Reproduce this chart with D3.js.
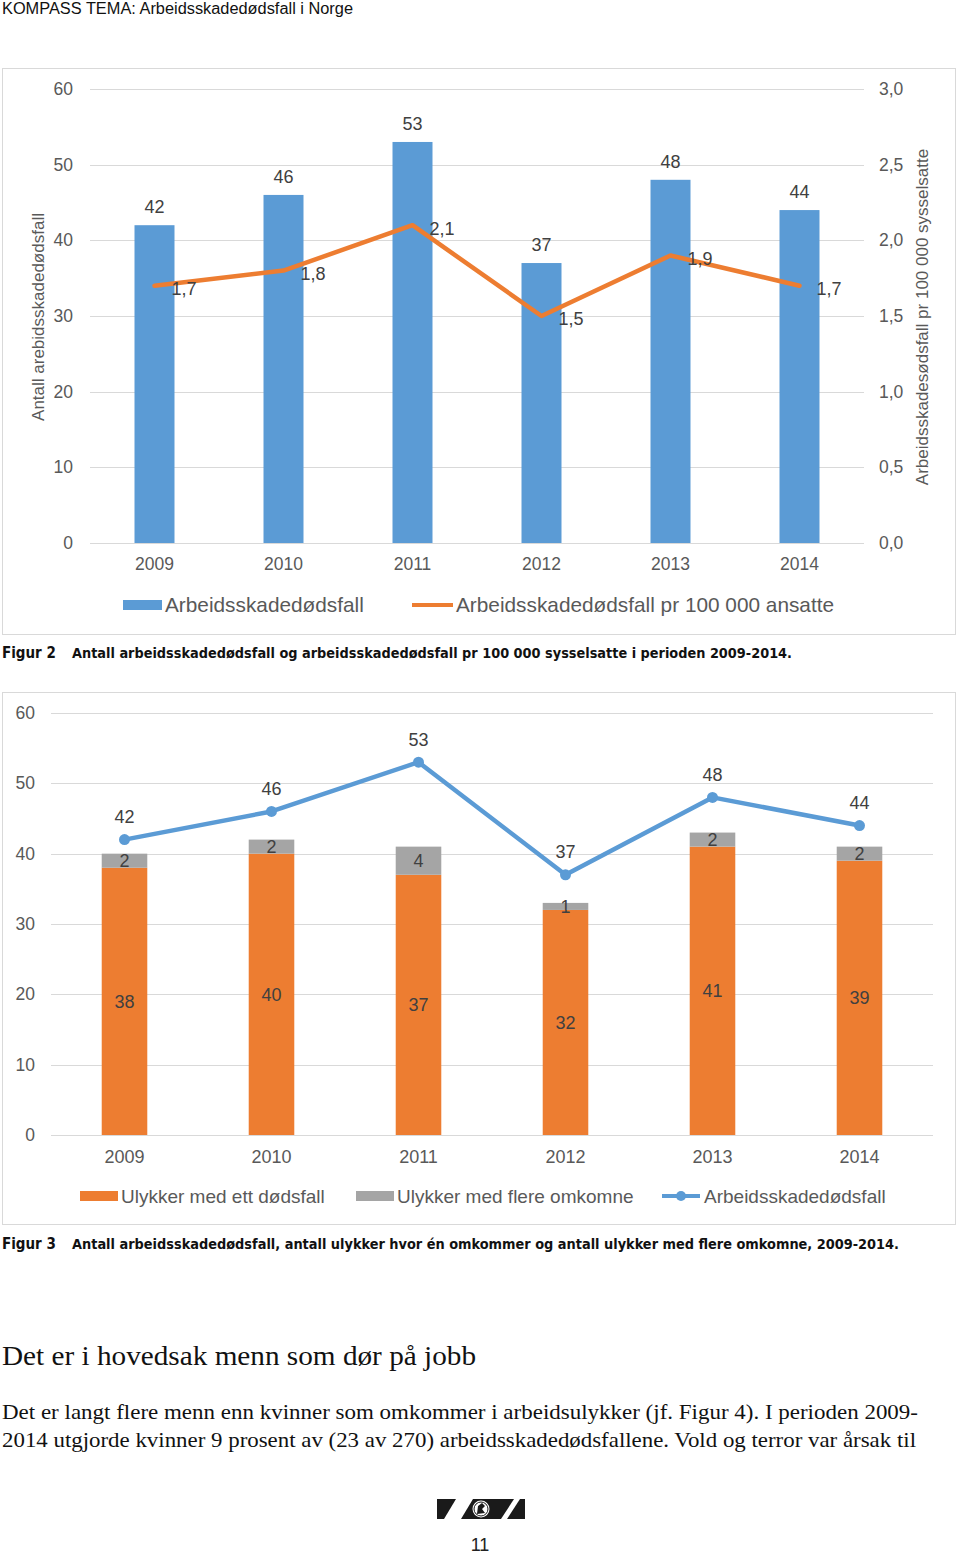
<!DOCTYPE html>
<html>
<head>
<meta charset="utf-8">
<script src="https://cdn.jsdelivr.net/npm/d3@7"></script>
<style>
  html, body { margin: 0; padding: 0; background: #fff; }
  svg { display: block; }
</style>
</head>
<body>
<svg id="page" width="960" height="1554"></svg>
<script>
// ---------- data ----------
const years = ["2009", "2010", "2011", "2012", "2013", "2014"];
const deaths = [42, 46, 53, 37, 48, 44];
const ratePer100k = [1.7, 1.8, 2.1, 1.5, 1.9, 1.7];
const accidentsOneDeath = [38, 40, 37, 32, 41, 39];
const accidentsMultiple = [2, 2, 4, 1, 2, 2];
const leftTicks = [0, 10, 20, 30, 40, 50, 60];
const rightTicks = [0, 0.5, 1.0, 1.5, 2.0, 2.5, 3.0];

const BLUE = "#5B9BD5", ORANGE = "#ED7D31", GRAY = "#A5A5A5";
const GRID = "#D9D9D9", AX = "#595959", LBL = "#404040";
const SANS = "'Liberation Sans', Arial, sans-serif";
const NARROW = "'Liberation Sans Narrow', 'DejaVu Sans Condensed', 'Liberation Sans', sans-serif";
const SERIF = "'Liberation Serif', 'Times New Roman', serif";
const fmtComma = d => d3.format(".1f")(d).replace(".", ",");

const svg = d3.select("#page");
svg.append("rect").attr("width", 960).attr("height", 1554).attr("fill", "#fff");

// ---------- header ----------
svg.append("text").attr("x", 2).attr("y", 14)
  .attr("font-family", SANS).attr("font-size", 16).attr("fill", "#111")
  .attr("textLength", 351).attr("lengthAdjust", "spacingAndGlyphs")
  .text("KOMPASS TEMA: Arbeidsskadedødsfall i Norge");

// ================= FIGURE 2 (bars + rate line) =================
const f1 = svg.append("g");
f1.append("rect").attr("x", 2.5).attr("y", 68.5).attr("width", 953).attr("height", 566)
  .attr("fill", "none").attr("stroke", GRID);

const x1 = d3.scaleBand().domain(years).range([90, 864]).padding(0);
const yL = d3.scaleLinear().domain([0, 60]).range([543, 89]);
const yR = d3.scaleLinear().domain([0, 3]).range([543, 89]);
const bw1 = x1.bandwidth() * 0.31;
const cx1 = d => x1(d) + x1.bandwidth() / 2;

// gridlines
f1.append("g").selectAll("line").data(leftTicks).join("line")
  .attr("x1", 90).attr("x2", 864)
  .attr("y1", d => Math.round(yL(d)) + 0.5).attr("y2", d => Math.round(yL(d)) + 0.5)
  .attr("stroke", GRID).attr("stroke-width", 1);

// left axis labels
f1.append("g").selectAll("text").data(leftTicks).join("text")
  .attr("x", 73).attr("y", d => yL(d)).attr("dy", "0.35em")
  .attr("text-anchor", "end").attr("font-family", SANS).attr("font-size", 17.5).attr("fill", AX)
  .text(d => d);
// right axis labels
f1.append("g").selectAll("text").data(rightTicks).join("text")
  .attr("x", 879).attr("y", d => yR(d)).attr("dy", "0.35em")
  .attr("text-anchor", "start").attr("font-family", SANS).attr("font-size", 17.5).attr("fill", AX)
  .text(d => fmtComma(d));

// axis titles
f1.append("text").attr("transform", "translate(44,317) rotate(-90)")
  .attr("text-anchor", "middle").attr("font-family", SANS).attr("font-size", 17).attr("fill", AX)
  .text("Antall arebidsskadedødsfall");
f1.append("text").attr("transform", "translate(928,317) rotate(-90)")
  .attr("text-anchor", "middle").attr("font-family", SANS).attr("font-size", 17).attr("fill", AX)
  .text("Arbeidsskadesødsfall pr 100 000 sysselsatte");

// bars
f1.append("g").selectAll("rect").data(years).join("rect")
  .attr("x", d => cx1(d) - bw1 / 2).attr("width", bw1)
  .attr("y", (d, i) => yL(deaths[i])).attr("height", (d, i) => yL(0) - yL(deaths[i]))
  .attr("fill", BLUE);
// bar labels
f1.append("g").selectAll("text").data(years).join("text")
  .attr("x", d => cx1(d)).attr("y", (d, i) => yL(deaths[i]) - 12)
  .attr("text-anchor", "middle").attr("font-family", SANS).attr("font-size", 18).attr("fill", LBL)
  .text((d, i) => deaths[i]);

// rate line
const line1 = d3.line().x((d, i) => cx1(years[i])).y(d => yR(d));
f1.append("path").datum(ratePer100k).attr("d", line1)
  .attr("fill", "none").attr("stroke", ORANGE).attr("stroke-width", 4.5)
  .attr("stroke-linejoin", "round").attr("stroke-linecap", "round");
f1.append("g").selectAll("text").data(ratePer100k).join("text")
  .attr("x", (d, i) => cx1(years[i]) + 17).attr("y", d => yR(d) + 3).attr("dy", "0.35em")
  .attr("font-family", SANS).attr("font-size", 18).attr("fill", LBL)
  .text(d => fmtComma(d));

// x labels
f1.append("g").selectAll("text").data(years).join("text")
  .attr("x", d => cx1(d)).attr("y", 564).attr("dy", "0.35em")
  .attr("text-anchor", "middle").attr("font-family", SANS).attr("font-size", 17.5).attr("fill", AX)
  .text(d => d);

// legend
f1.append("rect").attr("x", 123).attr("y", 600).attr("width", 39).attr("height", 10).attr("fill", BLUE);
f1.append("text").attr("x", 165).attr("y", 605).attr("dy", "0.35em")
  .attr("font-family", SANS).attr("font-size", 20.8).attr("fill", AX).text("Arbeidsskadedødsfall");
f1.append("line").attr("x1", 412).attr("x2", 453).attr("y1", 605).attr("y2", 605)
  .attr("stroke", ORANGE).attr("stroke-width", 4);
f1.append("text").attr("x", 456).attr("y", 605).attr("dy", "0.35em")
  .attr("font-family", SANS).attr("font-size", 20.8).attr("fill", AX).text("Arbeidsskadedødsfall pr 100 000 ansatte");

// caption 1
svg.append("text").attr("x", 2).attr("y", 658)
  .attr("font-family", NARROW).attr("font-weight", "bold").attr("font-size", 15).attr("fill", "#111")
  .text("Figur 2");
svg.append("text").attr("x", 72).attr("y", 658)
  .attr("font-family", NARROW).attr("font-weight", "bold").attr("font-size", 14).attr("fill", "#111")
  .attr("textLength", 720).attr("lengthAdjust", "spacingAndGlyphs")
  .text("Antall arbeidsskadedødsfall og arbeidsskadedødsfall pr 100 000 sysselsatte i perioden 2009-2014.");

// ================= FIGURE 3 (stacked + line) =================
const f2 = svg.append("g");
f2.append("rect").attr("x", 2.5).attr("y", 692.5).attr("width", 953).attr("height", 532)
  .attr("fill", "none").attr("stroke", GRID);

const x2 = d3.scaleBand().domain(years).range([51, 933]).padding(0);
const y2 = d3.scaleLinear().domain([0, 60]).range([1135, 713]);
const bw2 = x2.bandwidth() * 0.31;
const cx2 = d => x2(d) + x2.bandwidth() / 2;

f2.append("g").selectAll("line").data(leftTicks).join("line")
  .attr("x1", 51).attr("x2", 933)
  .attr("y1", d => Math.round(y2(d)) + 0.5).attr("y2", d => Math.round(y2(d)) + 0.5)
  .attr("stroke", GRID).attr("stroke-width", 1);
f2.append("g").selectAll("text").data(leftTicks).join("text")
  .attr("x", 35).attr("y", d => y2(d)).attr("dy", "0.35em")
  .attr("text-anchor", "end").attr("font-family", SANS).attr("font-size", 17.5).attr("fill", AX)
  .text(d => d);

const rows = years.map((y, i) => ({ year: y, one: accidentsOneDeath[i], multi: accidentsMultiple[i] }));
const stack = d3.stack().keys(["one", "multi"])(rows);
const stackColors = { one: ORANGE, multi: GRAY };

const layers = f2.append("g").selectAll("g").data(stack).join("g")
  .attr("fill", d => stackColors[d.key]);
layers.selectAll("rect").data(d => d).join("rect")
  .attr("x", d => cx2(d.data.year) - bw2 / 2).attr("width", bw2)
  .attr("y", d => y2(d[1])).attr("height", d => y2(d[0]) - y2(d[1]));

const labelG = f2.append("g").selectAll("g").data(stack).join("g");
labelG.selectAll("text").data(d => d).join("text")
  .attr("x", d => cx2(d.data.year)).attr("y", d => y2((d[0] + d[1]) / 2)).attr("dy", "0.35em")
  .attr("text-anchor", "middle").attr("font-family", SANS).attr("font-size", 18).attr("fill", LBL)
  .text(d => d[1] - d[0]);

const line2 = d3.line().x((d, i) => cx2(years[i])).y(d => y2(d));
f2.append("path").datum(deaths).attr("d", line2)
  .attr("fill", "none").attr("stroke", BLUE).attr("stroke-width", 4.5)
  .attr("stroke-linejoin", "round").attr("stroke-linecap", "round");
f2.append("g").selectAll("circle").data(deaths).join("circle")
  .attr("cx", (d, i) => cx2(years[i])).attr("cy", d => y2(d)).attr("r", 5.5).attr("fill", BLUE);
f2.append("g").selectAll("text").data(deaths).join("text")
  .attr("x", (d, i) => cx2(years[i])).attr("y", d => y2(d) - 23).attr("dy", "0.35em")
  .attr("text-anchor", "middle").attr("font-family", SANS).attr("font-size", 18).attr("fill", LBL)
  .text(d => d);

f2.append("g").selectAll("text").data(years).join("text")
  .attr("x", d => cx2(d)).attr("y", 1157).attr("dy", "0.35em")
  .attr("text-anchor", "middle").attr("font-family", SANS).attr("font-size", 18).attr("fill", AX)
  .text(d => d);

// legend 2
f2.append("rect").attr("x", 80).attr("y", 1191).attr("width", 38).attr("height", 10).attr("fill", ORANGE);
f2.append("text").attr("x", 121).attr("y", 1196).attr("dy", "0.35em")
  .attr("font-family", SANS).attr("font-size", 19).attr("fill", AX).text("Ulykker med ett dødsfall");
f2.append("rect").attr("x", 356).attr("y", 1191).attr("width", 38).attr("height", 10).attr("fill", GRAY);
f2.append("text").attr("x", 397).attr("y", 1196).attr("dy", "0.35em")
  .attr("font-family", SANS).attr("font-size", 19).attr("fill", AX).text("Ulykker med flere omkomne");
f2.append("line").attr("x1", 662).attr("x2", 700).attr("y1", 1196).attr("y2", 1196)
  .attr("stroke", BLUE).attr("stroke-width", 4);
f2.append("circle").attr("cx", 681).attr("cy", 1196).attr("r", 5).attr("fill", BLUE);
f2.append("text").attr("x", 704).attr("y", 1196).attr("dy", "0.35em")
  .attr("font-family", SANS).attr("font-size", 19).attr("fill", AX).text("Arbeidsskadedødsfall");

// caption 2
svg.append("text").attr("x", 2).attr("y", 1249)
  .attr("font-family", NARROW).attr("font-weight", "bold").attr("font-size", 15).attr("fill", "#111")
  .text("Figur 3");
svg.append("text").attr("x", 72).attr("y", 1249)
  .attr("font-family", NARROW).attr("font-weight", "bold").attr("font-size", 13.5).attr("fill", "#111")
  .attr("textLength", 827).attr("lengthAdjust", "spacingAndGlyphs")
  .text("Antall arbeidsskadedødsfall, antall ulykker hvor én omkommer og antall ulykker med flere omkomne, 2009-2014.");

// ---------- body text ----------
svg.append("text").attr("x", 2).attr("y", 1365)
  .attr("font-family", SERIF).attr("font-size", 28).attr("fill", "#111")
  .attr("textLength", 474).attr("lengthAdjust", "spacingAndGlyphs")
  .text("Det er i hovedsak menn som dør på jobb");
svg.append("text").attr("x", 2).attr("y", 1419)
  .attr("font-family", SERIF).attr("font-size", 22).attr("fill", "#111")
  .attr("textLength", 916).attr("lengthAdjust", "spacingAndGlyphs")
  .text("Det er langt flere menn enn kvinner som omkommer i arbeidsulykker (jf. Figur 4). I perioden 2009-");
svg.append("text").attr("x", 2).attr("y", 1447)
  .attr("font-family", SERIF).attr("font-size", 22).attr("fill", "#111")
  .attr("textLength", 914).attr("lengthAdjust", "spacingAndGlyphs")
  .text("2014 utgjorde kvinner 9 prosent av (23 av 270) arbeidsskadedødsfallene. Vold og terror var årsak til");

// ---------- logo + page number ----------
const logo = svg.append("g").attr("fill", "#1a1a1a");
logo.append("path").attr("d", "M437,1499 L456,1499 L444,1519 L437,1519 Z");
logo.append("path").attr("d", "M473,1499 L514,1499 L501,1519 L461,1519 Z");
logo.append("path").attr("d", "M520,1499 L525,1499 L525,1519 L507,1519 Z");
svg.append("circle").attr("cx", 481).attr("cy", 1509).attr("r", 8.5).attr("fill", "#fff");
svg.append("circle").attr("cx", 481).attr("cy", 1509).attr("r", 7).attr("fill", "none")
  .attr("stroke", "#1a1a1a").attr("stroke-width", 1);
svg.append("path").attr("d", "M477,1514 L478,1506 L482,1503 L485,1506 L482,1509 L485,1513 Z")
  .attr("fill", "#1a1a1a");
svg.append("text").attr("x", 480).attr("y", 1551)
  .attr("text-anchor", "middle").attr("font-family", SANS).attr("font-size", 18).attr("fill", "#222")
  .text("11");
</script>
</body>
</html>
